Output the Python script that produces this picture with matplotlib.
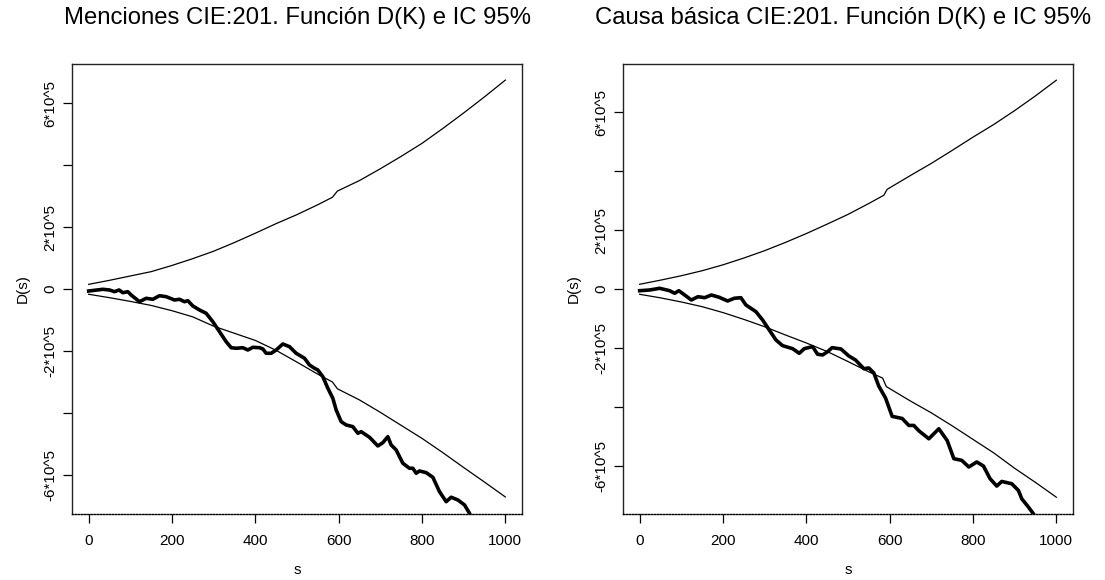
import matplotlib
matplotlib.use("Agg")
import matplotlib.pyplot as plt
import numpy as np

plt.rcParams['font.family'] = ['Liberation Sans', 'DejaVu Sans']

titles = ["Menciones CIE:201. Función D(K) e IC 95%",
          "Causa básica CIE:201. Función D(K) e IC 95%"]
x_label = "s"
y_label = "D(s)"
x_ticks = [0, 200, 400, 600, 800, 1000]
y_ticks = [-600000, -400000, -200000, 0, 200000, 400000, 600000]
y_tick_labels = ["-6*10^5", "", "-2*10^5", "0", "2*10^5", "", "6*10^5"]

# ---- Panel 1: Menciones ----
p1_up_s = [0, 50, 100, 150, 200, 250, 300, 350, 400, 450, 500, 550, 585, 597,
           650, 700, 750, 800, 850, 900, 950, 1000]
p1_up_y = [15000, 28000, 42000, 56000, 76000, 98000, 122000, 150000, 180000, 211000,
           240000, 272000, 296000, 316000, 350000, 388000, 428000, 470000, 518000,
           568000, 620000, 674000]
p1_lo_s = [0, 50, 100, 150, 200, 250, 300, 350, 400, 450, 500, 550, 585, 597,
           650, 700, 750, 800, 850, 900, 950, 1000]
p1_lo_y = [-17000, -28000, -40000, -53000, -70000, -90000, -120000, -143000, -166000,
           -198000, -236000, -275000, -300000, -322000, -358000, -398000, -440000,
           -482000, -528000, -576000, -623000, -671000]
p1_obs_s = [0, 34, 50, 62, 73, 82, 94, 102, 122, 138, 154, 170, 186, 206, 218, 230, 238,
            250, 266, 282, 298, 314, 330, 342, 354, 370, 382, 394, 410, 418, 426, 438,
            450, 466, 482, 498, 518, 530, 542, 550, 562, 574, 586, 594, 606, 618, 634,
            646, 654, 674, 694, 706, 718, 726, 738, 754, 770, 778, 786, 794, 810, 826,
            842, 858, 870, 886, 902, 914, 930]
p1_obs_y = [-6500, -1000, -3200, -8700, -3200, -11900, -8700, -19400, -41000, -30000,
            -33200, -21600, -24800, -35500, -33200, -41000, -37700, -54800, -67700,
            -78400, -105500, -137700, -170000, -189400, -191300, -189400, -196800,
            -188100, -189400, -193500, -207400, -207400, -196800, -177400, -186100,
            -207400, -223500, -245200, -255800, -261300, -282900, -320300, -352600,
            -390300, -428000, -438700, -444200, -465500, -460300, -478400, -506400,
            -495800, -476400, -503200, -519400, -562300, -578400, -578400, -594500,
            -587100, -592600, -607400, -653900, -686200, -671900, -680600, -696800,
            -723500, -780000]

# ---- Panel 2: Causa básica ----
p2_up_s = [0, 50, 100, 150, 200, 250, 300, 350, 400, 450, 500, 550, 586, 594,
           650, 700, 750, 800, 850, 900, 950, 1000]
p2_up_y = [16000, 30000, 45000, 62000, 82000, 105000, 130000, 158000, 188000, 220000,
           253000, 290000, 318000, 338000, 385000, 426000, 470000, 515000, 558000,
           605000, 655000, 708000]
p2_lo_s = [0, 50, 100, 150, 200, 250, 300, 350, 400, 450, 500, 550, 583, 592,
           650, 700, 750, 800, 850, 900, 950, 1000]
p2_lo_y = [-18000, -30000, -44000, -60000, -80000, -103000, -128000, -156000, -183000,
           -212000, -246000, -281000, -302000, -331000, -380000, -420000, -464000,
           -510000, -556000, -608000, -656000, -706000]
p2_obs_s = [0, 24, 48, 72, 84, 94, 108, 124, 140, 156, 172, 191, 211, 227, 243, 255,
            279, 295, 311, 327, 343, 367, 383, 395, 415, 427, 439, 451, 462, 483, 502,
            518, 538, 550, 562, 574, 590, 606, 630, 646, 658, 670, 694, 718, 738, 754,
            773, 790, 809, 825, 841, 857, 869, 893, 909, 917, 933, 945, 955]
p2_obs_y = [-5800, -3400, 2400, -5800, -14600, -5800, -20300, -37300, -26100, -29500,
            -20300, -28100, -40700, -31500, -29500, -54200, -76900, -105000, -138900,
            -172800, -192100, -202300, -218000, -202300, -195500, -221300, -223700,
            -212500, -198900, -203400, -227100, -240700, -270200, -267800, -284800,
            -329800, -369300, -432000, -439000, -462700, -462700, -480800, -507900,
            -474000, -513700, -575400, -581100, -603600, -586600, -600200, -643400,
            -668200, -652600, -660400, -683100, -711300, -739500, -762200, -800000]

panels = [
    (p1_up_s, p1_up_y, p1_lo_s, p1_lo_y, p1_obs_s, p1_obs_y, 726000),
    (p2_up_s, p2_up_y, p2_lo_s, p2_lo_y, p2_obs_s, p2_obs_y, 763000),
]

W, H = 1105, 580
fig = plt.figure(figsize=(W / 100, H / 100), dpi=100)
axes_px = [(72, 64, 522, 514), (623, 64, 1073, 514)]
title_cx = [297, 843]

for i, (pan, box) in enumerate(zip(panels, axes_px)):
    up_s, up_y, lo_s, lo_y, ob_s, ob_y, ylim = pan
    x0, y0, x1, y1 = box
    ax = fig.add_axes([x0 / W, 1 - y1 / H, (x1 - x0) / W, (y1 - y0) / H])
    ax.plot(up_s, up_y, color='black', lw=0.9)
    ax.plot(lo_s, lo_y, color='black', lw=0.9)
    ax.plot(ob_s, ob_y, color='black', lw=2.6, solid_joinstyle='round')
    ax.set_xlim(-40, 1040)
    ax.set_ylim(-ylim, ylim)
    ax.set_xticks(x_ticks)
    ax.set_xticklabels([str(t) for t in x_ticks])
    ax.set_yticks(y_ticks)
    ax.set_yticklabels(y_tick_labels, rotation=90, va='center')
    ax.tick_params(axis='x', direction='out', length=6.5, width=0.9, pad=8, labelsize=11)
    ax.tick_params(axis='y', direction='out', length=6.5, width=0.9, pad=4, labelsize=11)
    for side in ['left', 'right', 'top']:
        ax.spines[side].set_linewidth(1.0)
        ax.spines[side].set_color('#222222')
    ax.spines['bottom'].set_linewidth(1.0)
    ax.spines['bottom'].set_linestyle((0, (1, 1.2)))
    ax.set_xlabel(x_label, fontsize=11, labelpad=11)
    ax.set_ylabel(y_label, fontsize=11, labelpad=10)
    fig.text(title_cx[i] / W, 1 - 18 / H, titles[i], ha='center', va='center', fontsize=17.2)

fig.savefig("out.png", dpi=100)
